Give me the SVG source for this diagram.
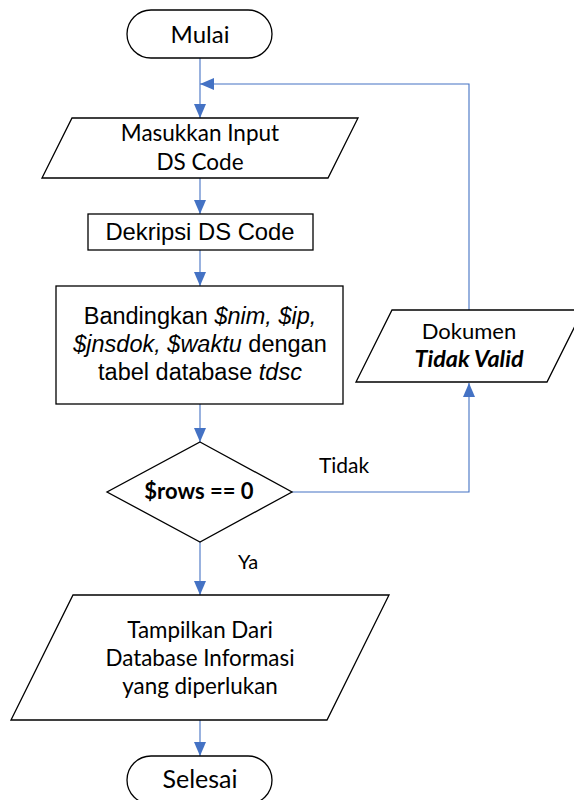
<svg xmlns="http://www.w3.org/2000/svg" width="574" height="800" viewBox="0 0 574 800">
  <defs>
    <marker id="arrow" markerUnits="userSpaceOnUse" markerWidth="14" markerHeight="12" refX="14" refY="6" orient="auto">
      <path d="M0,0 L14,6 L0,12 z" fill="#4472C4"/>
    </marker>
    <style>
      .shape { fill: #ffffff; stroke: #000000; stroke-width: 1.3; }
      .conn { fill: none; stroke: #4472C4; stroke-width: 1.1; }
      .cal { font-family: Lato, "Open Sans", sans-serif; fill: #000000; text-anchor: middle; }
      .ari { font-family: "Liberation Sans", Arial, sans-serif; fill: #000000; text-anchor: middle; }
    </style>
  </defs>
  <rect width="574" height="800" fill="#ffffff"/>

  <g id="connectors">
    <path class="conn" d="M200,58 V118" marker-end="url(#arrow)"/>
    <path class="conn" d="M200,178 V214" marker-end="url(#arrow)"/>
    <path class="conn" d="M200,250 V286" marker-end="url(#arrow)"/>
    <path class="conn" d="M200,404 V442" marker-end="url(#arrow)"/>
    <path class="conn" d="M200,542 V595" marker-end="url(#arrow)"/>
    <path class="conn" d="M200,720 V756" marker-end="url(#arrow)"/>
    <path class="conn" d="M292,492 H469 V383" marker-end="url(#arrow)"/>
    <path class="conn" d="M469,310 V84 H200" marker-end="url(#arrow)"/>
    <text class="cal" x="344" y="473" font-size="21">Tidak</text>
    <text class="cal" x="248" y="569" font-size="20">Ya</text>
  </g>

  <g id="mulai">
    <rect class="shape" x="127" y="10" width="145" height="48" rx="24" ry="24"/>
    <text class="cal" x="200" y="43" font-size="24">Mulai</text>
  </g>

  <g id="input">
    <polygon class="shape" points="72,118 358,118 328,178 42,178"/>
    <text class="cal" x="200" y="141" font-size="22.5">Masukkan Input</text>
    <text class="cal" x="200" y="170" font-size="22.5">DS Code</text>
  </g>

  <g id="dekripsi">
    <rect class="shape" x="88" y="214" width="225" height="36"/>
    <text class="ari" x="200" y="240" font-size="23.8">Dekripsi DS Code</text>
  </g>

  <g id="bandingkan">
    <rect class="shape" x="56" y="286" width="287" height="118"/>
    <text class="ari" x="200" y="324" font-size="23.5">Bandingkan <tspan font-style="italic">$nim, $ip,</tspan></text>
    <text class="ari" x="200" y="352" font-size="23.5"><tspan font-style="italic">$jnsdok, $waktu</tspan> dengan</text>
    <text class="ari" x="200" y="380" font-size="23.5">tabel database <tspan font-style="italic">tdsc</tspan></text>
  </g>

  <g id="decision">
    <polygon class="shape" points="200,442 292,492 200,542 107,492"/>
    <text class="cal" x="199" y="499" font-size="22" font-weight="bold">$rows == 0</text>
  </g>

  <g id="tidak-valid">
    <polygon class="shape" points="392,310 583,310 547,382 356,382"/>
    <text class="cal" x="469" y="339" font-size="22">Dokumen</text>
    <text class="cal" x="469" y="367" font-size="22" font-weight="bold" font-style="italic" textLength="109" lengthAdjust="spacingAndGlyphs">Tidak Valid</text>
  </g>

  <g id="tampilkan">
    <polygon class="shape" points="73,595 389,595 327,720 11,720"/>
    <text class="cal" x="200" y="638" font-size="22.4">Tampilkan Dari</text>
    <text class="cal" x="200" y="666" font-size="22.4">Database Informasi</text>
    <text class="cal" x="200" y="694" font-size="22.4">yang diperlukan</text>
  </g>

  <g id="selesai">
    <rect class="shape" x="127" y="756" width="145" height="48" rx="24" ry="24"/>
    <text class="cal" x="200" y="788" font-size="25">Selesai</text>
  </g>
</svg>
